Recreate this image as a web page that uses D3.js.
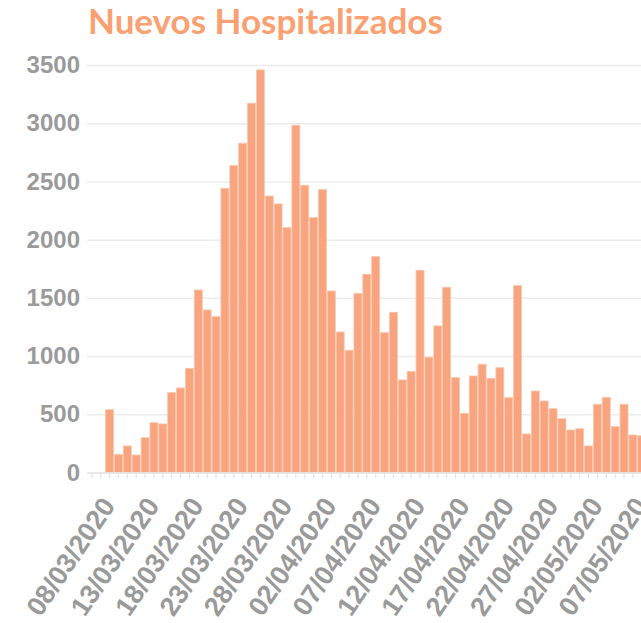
<!DOCTYPE html>
<html>
<head>
<meta charset="utf-8">
<script src="https://cdn.jsdelivr.net/npm/d3@7"></script>
<style>
  body { margin: 0; background: #fff; overflow: hidden; }
  svg { display: block; font-family: Lato, 'Noto Sans', sans-serif; }
  .tick text { fill: #9a9a9a; font-weight: 700; }
</style>
</head>
<body>
<svg width="641" height="623"></svg>
<script>
// daily dates shown on the x axis (07/03/2020 .. 08/05/2020)
const startDate = new Date(2020, 2, 7);
const dates = d3.timeDay.range(startDate, new Date(2020, 4, 9));

// new hospitalised per day (first two days empty)
const values = [
  0, 0,
  540, 156, 228, 150, 299, 428, 417, 686, 726, 895,
  1568, 1396, 1339, 2441, 2636, 2828, 3172, 3458, 2375, 2307,
  2103, 2983, 2467, 2189, 2430, 1559, 1207, 1050, 1539, 1703,
  1854, 1201, 1376, 795, 869, 1737, 990, 1259, 1591, 815,
  509, 829, 930, 809, 900, 643, 1605, 331, 700, 614,
  548, 462, 365, 376, 228, 586, 646, 394, 586, 322,
  316
];

const yTicks = [0, 500, 1000, 1500, 2000, 2500, 3000, 3500];
const title = 'Nuevos Hospitalizados';

const fmt = d3.timeFormat('%d/%m/%Y');
const data = dates.map((d, i) => ({ date: fmt(d), value: values[i] }));

const svg = d3.select('svg');
const margin = { top: 65, left: 87, bottom: 150.5 };
const step = 8.883;
const innerHeight = 623 - margin.top - margin.bottom;

const xScale = d3.scaleBand()
  .domain(data.map(d => d.date))
  .range([margin.left, margin.left + step * data.length])
  .padding(0.1);

const yScale = d3.scaleLinear()
  .domain([0, 3500])
  .range([margin.top + innerHeight, margin.top]);

// grid lines + y labels
const yAxis = svg.append('g')
  .attr('transform', `translate(${margin.left},0)`)
  .call(d3.axisLeft(yScale).tickValues(yTicks).tickFormat(d3.format('d'))
    .tickSize(-(641 - margin.left)).tickPadding(7));
yAxis.select('.domain').remove();
yAxis.selectAll('.tick line').attr('stroke', '#ececec').attr('stroke-width', 1.5);
yAxis.selectAll('.tick text').attr('font-size', 24);

// bars
svg.append('g')
  .selectAll('rect')
  .data(data.filter(d => d.value > 0))
  .enter()
  .append('rect')
  .attr('x', d => xScale(d.date))
  .attr('y', d => yScale(d.value))
  .attr('width', xScale.bandwidth())
  .attr('height', d => yScale(0) - yScale(d.value))
  .attr('fill', '#f8a47f')
  .attr('stroke', '#fbc6ad')
  .attr('stroke-width', 0.8);

// x axis: a tick every day, a label every five days
const xAxis = svg.append('g')
  .attr('transform', `translate(0,${yScale(0)})`)
  .call(d3.axisBottom(xScale).tickSize(6).tickSizeOuter(0)
    .tickFormat((d, i) => (i % 5 === 1 ? d : '')));
xAxis.select('.domain').attr('stroke', '#e6e6e6').attr('stroke-width', 1.5);
xAxis.selectAll('.tick text')
  .attr('font-size', 27)
  .attr('text-anchor', 'end')
  .attr('dy', '0.35em')
  .attr('transform', 'translate(0,23) rotate(-56)');
xAxis.selectAll('.tick line').attr('stroke', '#e6e6e6').attr('stroke-width', 1.2);

// title
svg.append('text')
  .attr('x', 88)
  .attr('y', 34)
  .attr('fill', '#fba070')
  .attr('font-size', 35)
  .attr('font-weight', 700)
  .text(title);
</script>
</body>
</html>
